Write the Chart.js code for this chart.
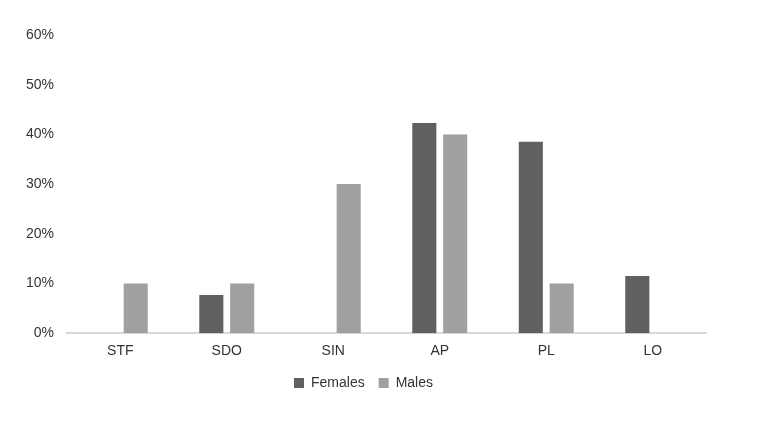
<!DOCTYPE html>
<html>
<head>
<meta charset="utf-8">
<script src="https://cdn.jsdelivr.net/npm/chart.js@4"></script>
<style>
  html, body { margin: 0; padding: 0; background: #ffffff; }
  #wrap { width: 759px; height: 424px; }
</style>
</head>
<body>
<div id="wrap"><canvas id="myChart" width="759" height="424"></canvas></div>
<script>
// categories and series (percent)
var categories = ['STF', 'SDO', 'SIN', 'AP', 'PL', 'LO'];
var females = [0, 7.7, 0, 42.3, 38.5, 11.5];
var males = [10, 10, 30, 40, 10, 0];
var yTicks = [0, 10, 20, 30, 40, 50, 60];

Chart.defaults.font.family = '"Liberation Sans", Arial, sans-serif';
Chart.defaults.font.size = 14;
Chart.defaults.color = '#333333';

var ctx = document.getElementById('myChart').getContext('2d');
var chart = new Chart(ctx, {
    type: 'bar',
    data: {
        labels: categories,
        datasets: [{
            label: 'Females',
            backgroundColor: '#606060',
            data: females
        },
        {
            label: 'Males',
            backgroundColor: '#a0a0a0',
            data: males
        }]
    },
    options: {
        responsive: false,
        animation: false,
        layout: { padding: { left: 21, right: 53, top: 35, bottom: 24 } },
        datasets: {
            bar: { categoryPercentage: 0.58, barPercentage: 0.78 }
        },
        plugins: {
            legend: {
                position: 'bottom',
                labels: {
                    boxWidth: 10,
                    boxHeight: 10,
                    padding: 14,
                    color: '#333333'
                }
            },
            tooltip: { enabled: false }
        },
        scales: {
            x: {
                grid: { display: false },
                border: { color: '#d9d9d9', width: 2 },
                ticks: { padding: 2, color: '#333333' }
            },
            y: {
                min: yTicks[0],
                max: yTicks[yTicks.length - 1],
                grid: { display: false },
                border: { display: false },
                afterBuildTicks: function (axis) {
                    axis.ticks = yTicks.map(function (v) { return { value: v }; });
                },
                ticks: {
                    padding: 5,
                    color: '#333333',
                    callback: function (v) { return v + '%'; }
                }
            }
        }
    }
});
</script>
</body>
</html>
